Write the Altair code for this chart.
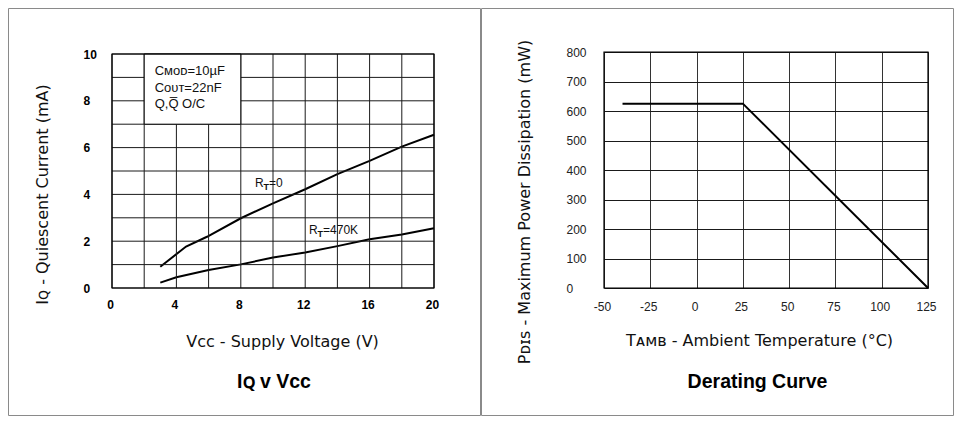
import altair as alt
import pandas as pd

# ---------------- data ----------------
vcc_rt0 = [3.0, 4.6, 5.9, 8.0, 10.0, 12.0, 14.0, 16.0, 18.0, 20.0]
iq_rt0 = [0.91, 1.77, 2.19, 2.98, 3.62, 4.22, 4.87, 5.43, 6.04, 6.55]
vcc_rt470 = [3.0, 4.0, 6.0, 8.0, 10.0, 12.0, 14.0, 16.0, 18.0, 20.0]
iq_rt470 = [0.23, 0.46, 0.77, 1.01, 1.30, 1.52, 1.79, 2.08, 2.29, 2.55]

vcc_ticks = [0, 4, 8, 12, 16, 20]
iq_ticks = [0, 2, 4, 6, 8, 10]
vcc_grid = [0, 2, 4, 6, 8, 10, 12, 14, 16, 18, 20]
iq_grid = [0, 1, 2, 3, 4, 5, 6, 7, 8, 9, 10]

box_lines = ["Cᴍᴏᴅ=10µF", "Cᴏᴜᴛ=22nF", "Q,Q\u0305  O/C"]
box_line_y = [9.28, 8.56, 7.87]
box_x = [2.65, 2.65, 2.65]
box_extent = {"vcc": [2], "vcc_end": [8], "iq": [7], "iq_end": [10]}

rt_rest = ["=0", "=470K"]
rt_x = [8.88, 12.24]
rt_y = [4.5, 2.49]

temp = [-40, 25, 125]
pdis = [625, 625, 0]
temp_ticks = [-50, -25, 0, 25, 50, 75, 100, 125]
pdis_ticks = [0, 100, 200, 300, 400, 500, 600, 700, 800]

left_title = "Iꞯ v Vᴄᴄ"
right_title = "Derating Curve"

LBL = "Liberation Sans"
TTL = "DejaVu Sans"
TS = 16

W1, W2, H = 322, 324, 236

one = pd.DataFrame({"v": [0]})

# ---------------- left panel ----------------
curves = pd.DataFrame({
    "vcc": vcc_rt0 + vcc_rt470,
    "iq": iq_rt0 + iq_rt470,
    "series": ["RT=0"] * len(vcc_rt0) + ["RT=470K"] * len(vcc_rt470),
})

xs1 = alt.Scale(domain=[0, 20], nice=False)
ys1 = alt.Scale(domain=[0, 10], nice=False, range=[236, 2])

ax1 = alt.Axis(
    values=vcc_ticks, grid=False, domain=False, ticks=False,
    labelFont=LBL, labelFontSize=12, labelFontWeight="bold", labelColor="#000",
    labelPadding=11.5, labelFlush=False, labelOverlap=False, labelOffset=-2,
    title="Vᴄᴄ - Supply Voltage (V)", titleFont=TTL, titleFontSize=TS,
    titleFontWeight="normal", titleColor="#111", titleX=170, titleY=53,
    titleBaseline="middle")
ay1 = alt.Axis(
    values=iq_ticks, grid=False, domain=False, ticks=False,
    labelFont=LBL, labelFontSize=12, labelFontWeight="bold", labelColor="#000",
    labelAlign="left", labelPadding=29, labelOverlap=False, labelFlush=False,
    title="Iꞯ - Quiescent Current (mA)", titleFont=TTL, titleFontSize=TS,
    titleFontWeight="normal", titleColor="#111", titleX=-69.5, titleY=142,
    titleBaseline="middle", titleAngle=-90)

x1 = alt.X("vcc:Q", scale=xs1, axis=ax1)
y1 = alt.Y("iq:Q", scale=ys1, axis=ay1)

frame1 = alt.Chart(one).mark_rect(fill="white", fillOpacity=0, stroke="#8a8a8a", strokeWidth=1).encode(
    x=alt.value(-103.5), x2=alt.value(368.5), y=alt.value(-43.5), y2=alt.value(363.5))

vgrid1 = alt.Chart(pd.DataFrame({"vcc": vcc_grid, "iq": [0] * len(vcc_grid), "iq_end": [10] * len(vcc_grid)})
                   ).mark_rule(color="#1a1a1a", strokeWidth=1).encode(x=x1, y=y1, y2="iq_end:Q")
hgrid1 = alt.Chart(pd.DataFrame({"iq": iq_grid, "vcc": [0] * len(iq_grid), "vcc_end": [20] * len(iq_grid)})
                   ).mark_rule(color="#1a1a1a", strokeWidth=1).encode(x=x1, x2="vcc_end:Q", y=y1)

lines1 = alt.Chart(curves).mark_line(color="black", strokeWidth=2).encode(
    x=x1, y=y1, detail="series:N")

box = alt.Chart(pd.DataFrame(box_extent)).mark_rect(fill="white", stroke="black", strokeWidth=1).encode(
    x=x1, x2="vcc_end:Q", y=y1, y2="iq_end:Q")

border1 = alt.Chart(pd.DataFrame({"vcc": [0], "vcc_end": [20], "iq": [0], "iq_end": [10]})).mark_rect(
    fill="white", fillOpacity=0, stroke="black", strokeWidth=1.2).encode(
    x=x1, x2="vcc_end:Q", y=y1, y2="iq_end:Q")

box_text = alt.Chart(pd.DataFrame({"t": box_lines, "vcc": box_x, "iq": box_line_y})).mark_text(
    align="left", baseline="middle", font=LBL, fontSize=13, color="#111").encode(
    x=x1, y=y1, text="t:N")

rt_df = pd.DataFrame({"vcc": rt_x, "iq": rt_y, "rest": rt_rest})
rt_r = alt.Chart(rt_df).mark_text(text="R", align="left", baseline="middle", font=LBL, fontSize=12,
                                  color="#111").encode(x=x1, y=y1)
rt_t = alt.Chart(rt_df).mark_text(text="T", align="left", baseline="middle", font=LBL, fontSize=9,
                                  fontWeight="bold", color="#111", dx=8.5, dy=4).encode(x=x1, y=y1)
rt_rest_m = alt.Chart(rt_df).mark_text(align="left", baseline="middle", font=LBL, fontSize=12,
                                       color="#111", dx=14).encode(x=x1, y=y1, text="rest:N")

ptitle1 = alt.Chart(pd.DataFrame({"t": [left_title]})).mark_text(
    align="center", baseline="middle", font=LBL, fontSize=19.5, fontWeight="bold", color="#000").encode(
    x=alt.value(162), y=alt.value(330), text="t:N")

left = alt.layer(lines1, frame1, vgrid1, hgrid1, box, border1, box_text, rt_r, rt_t, rt_rest_m,
                 ptitle1).properties(width=W1, height=H)

# ---------------- right panel ----------------
der = pd.DataFrame({"t": temp, "p": pdis})
xs2 = alt.Scale(domain=[-50, 125], nice=False)
ys2 = alt.Scale(domain=[0, 800], nice=False)

ax2 = alt.Axis(
    values=temp_ticks,
    labelExpr="replace(datum.label, '\u2212', '-')",
    grid=True, gridColor="#333", gridWidth=1, domain=False, ticks=False,
    labelFont=LBL, labelFontSize=12, labelColor="#222", labelPadding=13,
    labelFlush=False, labelOverlap=False, labelOffset=-2,
    title="Tᴀᴍʙ - Ambient Temperature (°C)", titleFont=TTL, titleFontSize=TS,
    titleFontWeight="normal", titleColor="#111", titleX=155, titleY=52,
    titleBaseline="middle")
ay2 = alt.Axis(
    values=pdis_ticks,
    grid=True, gridColor="#1a1a1a", gridWidth=1, domain=False, ticks=False,
    labelFont=LBL, labelFontSize=12, labelColor="#222",
    labelAlign="left", labelPadding=38, labelOverlap=False, labelFlush=False,
    title="Pᴅɪꜱ - Maximum Power Dissipation (mW)", titleFont=TTL, titleFontSize=TS,
    titleFontWeight="normal", titleColor="#111", titleX=-80, titleY=149.5,
    titleBaseline="middle", titleAngle=-90)

x2 = alt.X("t:Q", scale=xs2, axis=ax2)
y2 = alt.Y("p:Q", scale=ys2, axis=ay2)

frame2 = alt.Chart(one).mark_rect(fill="white", fillOpacity=0, stroke="#8a8a8a", strokeWidth=1).encode(
    x=alt.value(-122.5), x2=alt.value(349.5), y=alt.value(-43.5), y2=alt.value(363.5))

border2 = alt.Chart(pd.DataFrame({"t": [-50], "t_end": [125], "p": [0], "p_end": [800]})).mark_rect(
    fill="white", fillOpacity=0, stroke="black", strokeWidth=1.2).encode(
    x=x2, x2="t_end:Q", y=y2, y2="p_end:Q")

line2 = alt.Chart(der).mark_line(color="black", strokeWidth=2).encode(x=x2, y=y2)

ptitle2 = alt.Chart(pd.DataFrame({"t": [right_title]})).mark_text(
    align="center", baseline="middle", font=LBL, fontSize=19.5, fontWeight="bold", color="#000").encode(
    x=alt.value(153.5), y=alt.value(330), text="t:N")

right = alt.layer(line2, frame2, border2, ptitle2).properties(width=W2, height=H)

chart = alt.hconcat(left, right, spacing=0).properties(
    padding=0, background="white"
).configure_view(stroke=None, strokeWidth=0)

chart.save("out.html", embed_options={"renderer": "svg", "actions": False})
